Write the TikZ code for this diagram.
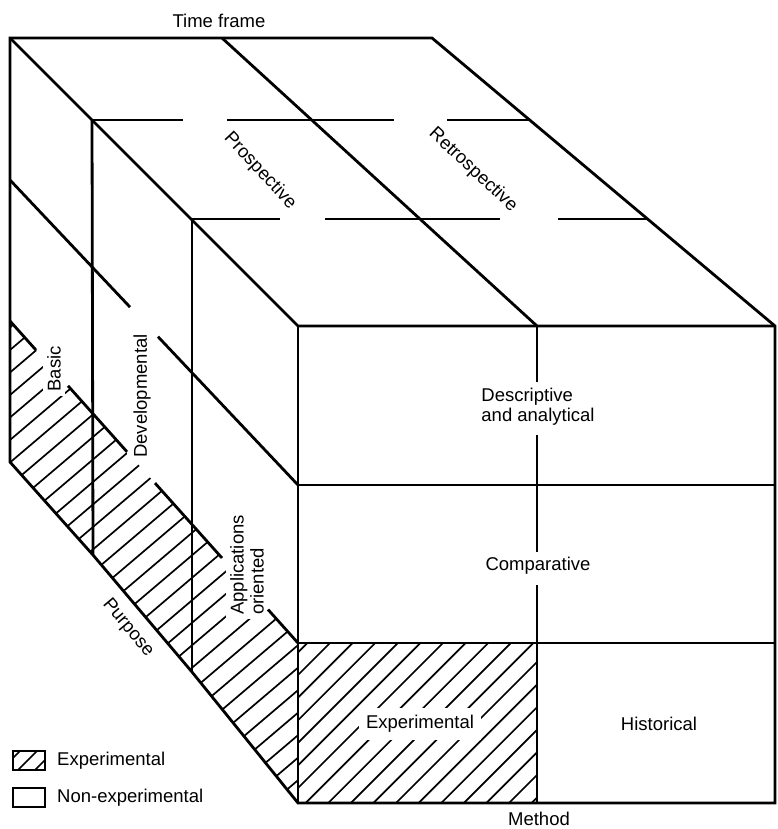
\documentclass[tikz,border=0pt]{standalone}
\usepackage{fontspec}
\setmainfont{Liberation Sans}
\begin{document}
\begin{tikzpicture}[x=1pt,y=-1pt,
  edge/.style={line width=2.8pt},
  hatchline/.style={line width=1.7pt},
  lbl/.style={font=\fontsize{18.5}{20}\selectfont, inner sep=0pt},
  cutout/.style={lbl, fill=white, inner sep=5pt}]
\useasboundingbox (0,0) rectangle (777,829);

% corner coordinates
\coordinate (A) at (10,38);
\coordinate (M) at (222,38);
\coordinate (B) at (432,38);
\coordinate (F) at (298,326);
\coordinate (Fm) at (537,326);
\coordinate (G) at (775,326);
\coordinate (H) at (298,803);
\coordinate (Hm) at (537,803);
\coordinate (I) at (775,803);
\coordinate (L) at (10,462);
\coordinate (P1) at (93,555);
\coordinate (P2) at (192,672);

% hatching, left face
\begin{scope}
  \clip (10,321) -- (298,643) -- (H) -- (P2) -- (P1) -- (L) -- cycle;
  \foreach \k in {-2,...,33}
    \draw[hatchline] (0,{358.5+22.5*\k}) -- (320,{358.5+22.5*\k-272});
\end{scope}

% hatching, front face
\begin{scope}
  \clip (298,643) rectangle (537,803);
  \foreach \k in {-2,...,18}
    \draw[hatchline] (280,{973+22.6*\k-280}) -- (560,{973+22.6*\k-560});
\end{scope}

% labels cutting the hatching
\node[cutout, rotate=90, inner sep=4pt] (basic) at (54,369) {Basic};
\node[cutout, rotate=90, inner sep=6pt] (devel) at (142,396) {Developmental};
\node[cutout, rotate=90, align=left, inner sep=4pt] (appl) at (247,565) {Applications\\oriented};
\node[cutout, inner sep=7pt] (expf) at (420,724) {Experimental};

% outline
\draw[edge, line join=miter] (A) -- (B) -- (G) -- (I) -- (H) -- (P2) -- (P1) -- (L) -- cycle;
\draw[edge] (A) -- (F) -- (G);
\draw[edge] (F) -- (H);
\draw[edge] (M) -- (Fm);

% front face grid
\draw[edge] (298,485) -- (775,485);
\draw[edge] (298,643) -- (775,643);
\draw[edge] (Fm) -- (537,382);
\draw[edge] (537,435) -- (537,552);
\draw[edge] (537,585) -- (Hm);

% slices of purpose
\draw[edge] (92,120) -- (P1);
\draw[edge] (192,219) -- (P2);
\draw[edge] (92,120) -- (183,120);
\draw[edge] (227,120) -- (394,120);
\draw[edge] (447,120) -- (531,120);
\draw[edge] (192,219) -- (280,219);
\draw[edge] (325,219) -- (500,219);
\draw[edge] (558,219) -- (648,219);

% left face method lines
\draw[edge] (10,180) -- (130,307.1);
\draw[edge] (158,336.7) -- (298,485);
\draw[edge] (10,321) -- (36,350.1);
\draw[edge] (68,385.8) -- (127,451.8);
\draw[edge] (155,483.1) -- (222,558);
\draw[edge] (268,609.5) -- (298,643);

% other labels
\node[lbl] (tf) at (219,21) {Time frame};
\node[lbl, rotate=-47] (pros) at (260,171) {Prospective};
\node[lbl, rotate=-43] (retro) at (473,170) {Retrospective};
\node[lbl, align=left] (desc) at (538,407) {Descriptive\\and analytical};
\node[lbl] (comp) at (538,566) {Comparative};
\node[lbl] (hist) at (659,724) {Historical};
\node[lbl] (meth) at (539,819) {Method};
\node[lbl, rotate=-50] (purp) at (128,628) {Purpose};

% legend
\begin{scope}
  \clip (13,751) rectangle (45,770);
  \foreach \c in {771,788,805}
    \draw[hatchline] (0,\c) -- (60,\c-60);
\end{scope}
\draw[edge] (13,751) rectangle (45,770);
\node[lbl, anchor=west] (legexp) at (57,761) {Experimental};
\draw[edge] (13,788) rectangle (45,807);
\node[lbl, anchor=west] (legnon) at (57,798) {Non-experimental};
\end{tikzpicture}
\end{document}
